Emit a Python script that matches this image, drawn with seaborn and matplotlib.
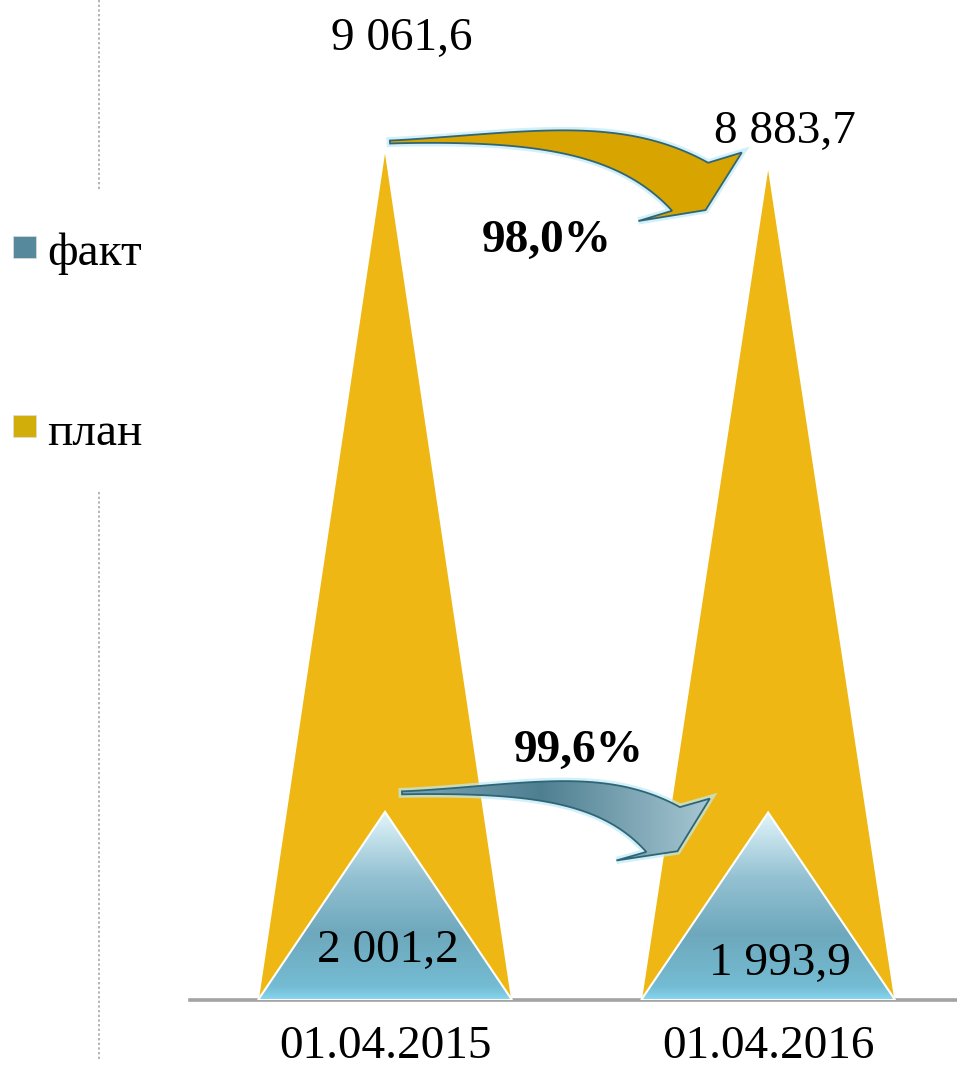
import numpy as np
import matplotlib
matplotlib.use("Agg")
import matplotlib.pyplot as plt
import seaborn as sns
from matplotlib.patches import Polygon, Rectangle
from matplotlib.colors import LinearSegmentedColormap
from matplotlib.lines import Line2D

# ---------------- data ----------------
dates = ["01.04.2015", "01.04.2016"]
plan = [9061.6, 8883.7]
fact = [2001.2, 1993.9]
legend_names = ["факт", "план"]

# ---------------- style ----------------
sns.set_theme(style="white")
plt.rcParams['font.family'] = ['Liberation Serif', 'DejaVu Serif']
plt.rcParams['text.color'] = 'black'

W, H = 957, 1067
PLAN_C = '#EEB713'
FS = 34

def fmt(v):
    return f"{v:,.1f}".replace(",", " ").replace(".", ",")

fig = plt.figure(figsize=(W / 100, H / 100), dpi=100)
ax = fig.add_axes([190 / W, 67 / H, 767 / W, 1000 / H])

sns.barplot(x=dates, y=plan, ax=ax, width=0.663, color=PLAN_C, errorbar=None)
n_plan = len(ax.patches)
sns.barplot(x=dates, y=fact, ax=ax, width=0.663, color='#6fa8bc', errorbar=None)

ax.set_xlim(-0.509, 1.493)
ax.set_ylim(0, 10636)

fact_cmap = LinearSegmentedColormap.from_list(
    'fact', [(0, '#86d6f0'), (0.07, '#74bcd3'), (0.35, '#6ea8bc'),
             (0.65, '#93c1d2'), (1.0, '#e2f5fa')])
grad_v = np.linspace(0, 1, 256).reshape(-1, 1)

peaks_plan, peaks_fact = [], []
for i, p in enumerate(ax.patches):
    x0, w, h = p.get_x(), p.get_width(), p.get_height()
    p.set_visible(False)
    tri = [(x0, 0), (x0 + w / 2, h), (x0 + w, 0)]
    if i < n_plan:
        ax.add_patch(Polygon(tri, closed=True, fc=PLAN_C, ec='white', lw=1.2, zorder=2))
        peaks_plan.append((x0 + w / 2, h))
    else:
        poly = Polygon(tri, closed=True, fc='none', ec='white', lw=1.5, zorder=4)
        ax.add_patch(poly)
        im = ax.imshow(grad_v, extent=[x0, x0 + w, 0, h], aspect='auto',
                       cmap=fact_cmap, origin='lower', zorder=3)
        im.set_clip_path(poly)
        peaks_fact.append((x0 + w / 2, h))

ax.set_xlim(-0.509, 1.493)
ax.set_ylim(0, 10636)

for s in ['top', 'right', 'left']:
    ax.spines[s].set_visible(False)
ax.spines['bottom'].set_color('#a3a3a3')
ax.spines['bottom'].set_linewidth(2.6)
ax.set_yticks([])
ax.set_xticks([0, 1])
ax.set_xticklabels(dates)
ax.tick_params(axis='x', length=0, labelsize=FS, pad=18, colors='black')
ax.set_xlabel("")
ax.set_ylabel("")

# ---------------- value labels ----------------
plan_off = [(17, 98), (17, 22)]
fact_off = [(3, -150), (12, -162)]
for (x, h), off in zip(peaks_plan, plan_off):
    ax.annotate(fmt(h), xy=(x, h), xytext=off, textcoords='offset pixels',
                ha='center', va='baseline', fontsize=FS, color='black', zorder=10)
for (x, h), off in zip(peaks_fact, fact_off):
    ax.annotate(fmt(h), xy=(x, h), xytext=off, textcoords='offset pixels',
                ha='center', va='baseline', fontsize=FS, color='black', zorder=10)

# ---------------- curved arrows ----------------
fig.canvas.draw()

def disp(x, y):
    return np.array(ax.transData.transform((x, y)), dtype=float)

def unit(v):
    v = np.asarray(v, float)
    return v / np.linalg.norm(v)

def arrow_poly(S, E, T0, T1, Th, w0, w1, hw, hl, k1=0.45, k2=0.3, pw=1.5):
    d = np.linalg.norm(E - S)
    C1 = S + T0 * d * k1
    C2 = E - T1 * d * k2
    t = np.linspace(0, 1, 160)[:, None]
    pts = ((1 - t) ** 3) * S + 3 * ((1 - t) ** 2) * t * C1 + 3 * (1 - t) * t ** 2 * C2 + t ** 3 * E
    der = 3 * ((1 - t) ** 2) * (C1 - S) + 6 * (1 - t) * t * (C2 - C1) + 3 * t ** 2 * (E - C2)
    der = der / np.linalg.norm(der, axis=1, keepdims=True)
    nrm = np.column_stack([-der[:, 1], der[:, 0]])
    w = (w0 + (w1 - w0) * t[:, 0] ** pw)[:, None]
    left = pts + nrm * w / 2
    right = pts - nrm * w / 2
    N1 = np.array([-Th[1], Th[0]])
    head = np.array([E + N1 * hw, E + Th * hl, E - N1 * hw])
    poly = np.vstack([left, head, right[::-1]])
    return ax.transData.inverted().transform(poly)

def draw_arrow(verts, fill=None, cmap=None):
    ax.add_patch(Polygon(verts, closed=True, fc='none', ec='#bfeaf7', lw=5,
                         alpha=0.7, zorder=6))
    if cmap is None:
        ax.add_patch(Polygon(verts, closed=True, fc=fill, ec='#2f6677', lw=1.3, zorder=7))
    else:
        poly = Polygon(verts, closed=True, fc='none', ec='#2f6677', lw=1.3, zorder=8)
        ax.add_patch(poly)
        xs, ys = verts[:, 0], verts[:, 1]
        g = np.linspace(0, 1, 256).reshape(1, -1)
        im = ax.imshow(g, extent=[xs.min(), xs.max(), ys.min(), ys.max()],
                       aspect='auto', cmap=cmap, zorder=7)
        im.set_clip_path(poly)

# gold arrow: plan 2015 -> plan 2016
S = disp(*peaks_plan[0]) + np.array([5, 6])
E = disp(*peaks_plan[1]) + np.array([-78, -22])
v_gold = arrow_poly(S, E, unit([1, 0.04]), unit([0.8, -0.6]), unit([0.55, -0.83]),
                    3, 60, 62, 28)
draw_arrow(v_gold, fill='#D8A400')

# blue arrow: fact 2015 -> fact 2016
blue_cmap = LinearSegmentedColormap.from_list(
    'blue', [(0, '#7da7b6'), (0.45, '#4e7f91'), (1, '#a7c7d3')])
S = disp(*peaks_fact[0]) + np.array([17, 19])
E = disp(*peaks_fact[1]) + np.array([-105, -17])
v_blue = arrow_poly(S, E, unit([1, 0.03]), unit([0.8, -0.6]), unit([0.55, -0.83]),
                    3, 56, 56, 26)
draw_arrow(v_blue, cmap=blue_cmap)

ax.set_xlim(-0.509, 1.493)
ax.set_ylim(0, 10636)

# percentage labels
pct_plan = plan[1] / plan[0] * 100
pct_fact = fact[1] / fact[0] * 100
ax.annotate(f"{pct_plan:.1f}%".replace(".", ","), xy=peaks_plan[0], xytext=(162, -104),
            textcoords='offset pixels', ha='center', va='baseline',
            fontsize=FS, fontweight='bold', color='black', zorder=10)
ax.annotate(f"{pct_fact:.1f}%".replace(".", ","), xy=peaks_fact[0], xytext=(194, 50),
            textcoords='offset pixels', ha='center', va='baseline',
            fontsize=FS, fontweight='bold', color='black', zorder=10)

# ---------------- legend ----------------
leg_colors = ['#55899b', '#D2AE0B']
leg_sq_top = [236, 415]
leg_base = [265, 445]
for name, c, top, base in zip(legend_names, leg_colors, leg_sq_top, leg_base):
    fig.patches.append(Rectangle((13 / W, 1 - (top + 22) / H), 23 / W, 22 / H,
                                 transform=fig.transFigure, fc=c, ec='#dddddd', lw=0.5))
    fig.text(47 / W, 1 - base / H, name, fontsize=FS, va='baseline', ha='left',
             color='black')

# dotted separator
for y0, y1 in [(0, 190), (492, 1060)]:
    fig.add_artist(Line2D([99 / W, 99 / W], [1 - y0 / H, 1 - y1 / H],
                          transform=fig.transFigure, color='#b5b5b5', lw=1.4,
                          ls=(0, (1.2, 1.2))))

fig.savefig("out.png", dpi=100)
